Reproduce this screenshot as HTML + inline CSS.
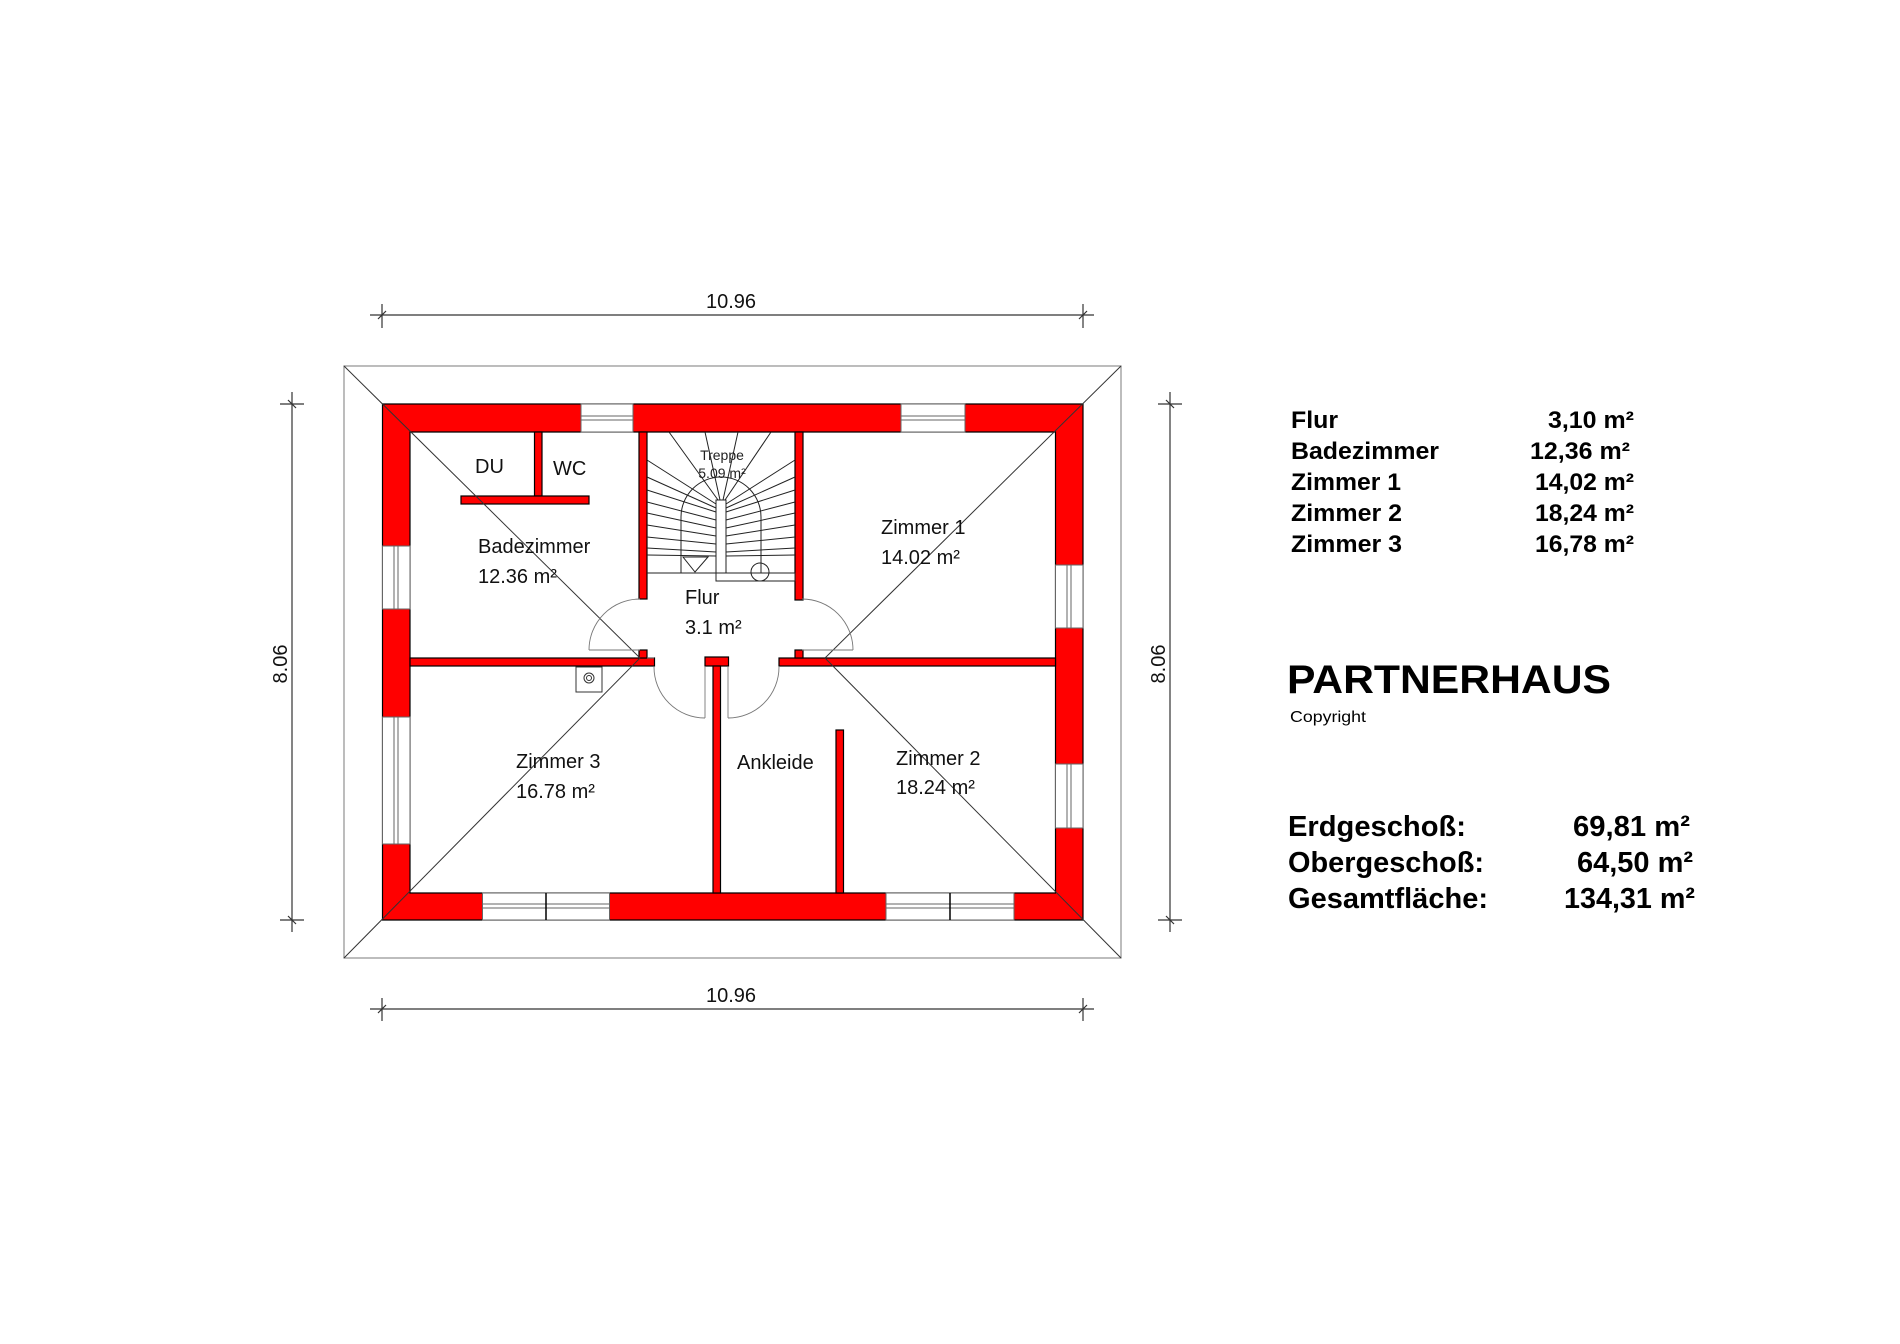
<!DOCTYPE html>
<html><head><meta charset="utf-8"><style>html,body{margin:0;padding:0;background:#fff}svg{display:block}</style></head>
<body>
<svg width="1900" height="1344" viewBox="0 0 1900 1344" xmlns="http://www.w3.org/2000/svg" font-family="Liberation Sans, Arial, sans-serif">
<rect width="1900" height="1344" fill="#fff"/>
<rect x="344" y="366" width="777" height="592" fill="none" stroke="#999" stroke-width="1.3"/>
<g fill="#ff0000" stroke="#000" stroke-width="1.2">
<path fill-rule="evenodd" d="M382.5 404H1083V920H382.5Z M410 432V893H1055.5V432Z"/>
<rect x="410" y="658" width="244.5" height="8"/>
<rect x="705" y="657" width="23.5" height="9"/>
<rect x="779" y="658" width="276.5" height="8"/>
<rect x="639" y="432" width="8" height="167"/>
<rect x="639" y="650" width="8" height="8"/>
<rect x="795" y="432" width="8" height="168"/>
<rect x="795" y="650" width="8" height="8"/>
<rect x="713" y="666" width="7.5" height="227"/>
<rect x="836" y="730" width="7.5" height="163"/>
<rect x="534.5" y="432" width="7.5" height="64"/>
<rect x="461" y="496" width="128" height="8"/>
</g>
<g fill="#fff" stroke="#666" stroke-width="1">
<rect x="581" y="404" width="52" height="28"/><line x1="581" y1="416" x2="633" y2="416"/><line x1="581" y1="420" x2="633" y2="420"/>
<rect x="901" y="404" width="64" height="28"/><line x1="901" y1="416" x2="965" y2="416"/><line x1="901" y1="420" x2="965" y2="420"/>
<rect x="382.5" y="546" width="27.5" height="63"/><line x1="394" y1="546" x2="394" y2="609"/><line x1="398" y1="546" x2="398" y2="609"/>
<rect x="382.5" y="717" width="27.5" height="127"/><line x1="394" y1="717" x2="394" y2="844"/><line x1="398" y1="717" x2="398" y2="844"/>
<rect x="1055.5" y="565" width="27.5" height="63"/><line x1="1067" y1="565" x2="1067" y2="628"/><line x1="1071" y1="565" x2="1071" y2="628"/>
<rect x="1055.5" y="764" width="27.5" height="64"/><line x1="1067" y1="764" x2="1067" y2="828"/><line x1="1071" y1="764" x2="1071" y2="828"/>
<rect x="482.5" y="893" width="127" height="27"/><line x1="482.5" y1="904" x2="609.5" y2="904"/><line x1="482.5" y1="908" x2="609.5" y2="908"/>
<rect x="886" y="893" width="128" height="27"/><line x1="886" y1="904" x2="1014" y2="904"/><line x1="886" y1="908" x2="1014" y2="908"/>
</g>
<g stroke="#000" stroke-width="1.5"><line x1="546" y1="893" x2="546" y2="920"/><line x1="950" y1="893" x2="950" y2="920"/></g>
<g stroke="#333" stroke-width="1">
<line x1="344" y1="366" x2="640" y2="658"/>
<line x1="1121" y1="366" x2="825" y2="658"/>
<line x1="344" y1="958" x2="640" y2="658"/>
<line x1="1121" y1="958" x2="825" y2="658"/>
</g>
<g fill="none" stroke="#777" stroke-width="0.9">
<line x1="589" y1="650" x2="640" y2="650"/><path d="M589 650A51 51 0 0 1 640 599"/>
<line x1="802" y1="650" x2="853" y2="650"/><path d="M853 650A51 51 0 0 0 802 599"/>
<line x1="705" y1="667" x2="705" y2="718"/><path d="M654 667A51 51 0 0 0 705 718"/>
<line x1="728" y1="667" x2="728" y2="718"/><path d="M779 667A51 51 0 0 1 728 718"/>
<line x1="647" y1="658" x2="654" y2="658"/>
</g>
<g fill="none" stroke="#222" stroke-width="1">
<line x1="647" y1="573" x2="795" y2="573"/>
<rect x="716" y="500" width="10" height="73" fill="#fff"/>
<rect x="716" y="573" width="79" height="8" fill="#fff"/>
<circle cx="760" cy="572" r="9"/>
<path d="M683 557H708L695 572Z"/>
<path d="M681 573V517A40 40 0 0 1 761 517V573"/>
<line x1="647" y1="490" x2="716" y2="512"/>
<line x1="647" y1="502" x2="716" y2="520"/>
<line x1="647" y1="513" x2="716" y2="528"/>
<line x1="647" y1="525" x2="716" y2="536"/>
<line x1="647" y1="537" x2="716" y2="544"/>
<line x1="647" y1="548" x2="716" y2="552"/>
<line x1="647" y1="555" x2="716" y2="556"/>
<line x1="795" y1="490" x2="726" y2="512"/>
<line x1="795" y1="502" x2="726" y2="520"/>
<line x1="795" y1="513" x2="726" y2="528"/>
<line x1="795" y1="525" x2="726" y2="536"/>
<line x1="795" y1="537" x2="726" y2="544"/>
<line x1="795" y1="548" x2="726" y2="552"/>
<line x1="795" y1="555" x2="726" y2="556"/>
<line x1="669" y1="432" x2="718" y2="500"/>
<line x1="705" y1="432" x2="720" y2="500"/>
<line x1="738" y1="432" x2="723" y2="500"/>
<line x1="771" y1="432" x2="725" y2="500"/>
<line x1="647" y1="460" x2="716" y2="504"/>
<line x1="647" y1="477" x2="716" y2="508"/>
<line x1="795" y1="460" x2="726" y2="504"/>
<line x1="795" y1="477" x2="726" y2="508"/>
</g>
<rect x="576" y="667" width="26" height="25" fill="#fff" stroke="#333" stroke-width="1"/>
<circle cx="589" cy="678" r="5" fill="none" stroke="#333"/><circle cx="589" cy="678" r="2.5" fill="none" stroke="#333"/>
<g stroke="#333" stroke-width="1.2">
<line x1="370" y1="315" x2="1094" y2="315"/>
<line x1="382" y1="304" x2="382" y2="328"/><line x1="378" y1="319" x2="386" y2="311"/>
<line x1="1083" y1="304" x2="1083" y2="328"/><line x1="1079" y1="319" x2="1087" y2="311"/>
<line x1="370" y1="1009" x2="1094" y2="1009"/>
<line x1="382" y1="998" x2="382" y2="1021"/><line x1="378" y1="1013" x2="386" y2="1005"/>
<line x1="1083" y1="998" x2="1083" y2="1021"/><line x1="1079" y1="1013" x2="1087" y2="1005"/>
<line x1="292" y1="392" x2="292" y2="932"/>
<line x1="280" y1="404" x2="304" y2="404"/><line x1="288" y1="400" x2="296" y2="408"/>
<line x1="280" y1="920" x2="304" y2="920"/><line x1="288" y1="916" x2="296" y2="924"/>
<line x1="1170" y1="392" x2="1170" y2="932"/>
<line x1="1158" y1="404" x2="1182" y2="404"/><line x1="1166" y1="400" x2="1174" y2="408"/>
<line x1="1158" y1="920" x2="1182" y2="920"/><line x1="1166" y1="916" x2="1174" y2="924"/>
</g>
<g font-size="20" fill="#111" text-anchor="middle">
<text x="731" y="308">10.96</text>
<text x="731" y="1002">10.96</text>
<text transform="translate(287,664) rotate(-90)">8.06</text>
<text transform="translate(1165,664) rotate(-90)">8.06</text>
</g>
<g font-size="20" fill="#111">
<text x="478" y="553">Badezimmer</text>
<text x="478" y="583">12.36 m²</text>
<text x="475" y="473">DU</text>
<text x="553" y="475">WC</text>
<text x="881" y="534">Zimmer 1</text>
<text x="881" y="564">14.02 m²</text>
<text x="685" y="604">Flur</text>
<text x="685" y="634">3.1 m²</text>
<text x="516" y="768">Zimmer 3</text>
<text x="516" y="798">16.78 m²</text>
<text x="737" y="769">Ankleide</text>
<text x="896" y="765">Zimmer 2</text>
<text x="896" y="794">18.24 m²</text>
</g>
<g font-size="14" fill="#222" text-anchor="middle">
<text x="722" y="460">Treppe</text>
<text x="722" y="478">5.09 m²</text>
</g>
<g font-size="24" font-weight="bold" fill="#000">
<text x="1291" y="428" textLength="47" lengthAdjust="spacingAndGlyphs">Flur</text>
<text x="1291" y="459" textLength="148" lengthAdjust="spacingAndGlyphs">Badezimmer</text>
<text x="1291" y="490" textLength="110" lengthAdjust="spacingAndGlyphs">Zimmer 1</text>
<text x="1291" y="521" textLength="111" lengthAdjust="spacingAndGlyphs">Zimmer 2</text>
<text x="1291" y="552" textLength="111" lengthAdjust="spacingAndGlyphs">Zimmer 3</text>
</g>
<g font-size="24" font-weight="bold" fill="#000">
<text x="1548" y="428" textLength="86" lengthAdjust="spacingAndGlyphs">3,10 m²</text>
<text x="1530" y="459" textLength="100" lengthAdjust="spacingAndGlyphs">12,36 m²</text>
<text x="1535" y="490" textLength="99" lengthAdjust="spacingAndGlyphs">14,02 m²</text>
<text x="1535" y="521" textLength="99" lengthAdjust="spacingAndGlyphs">18,24 m²</text>
<text x="1535" y="552" textLength="99" lengthAdjust="spacingAndGlyphs">16,78 m²</text>
</g>
<text x="1287" y="693" font-size="40" font-weight="bold" textLength="324" lengthAdjust="spacingAndGlyphs">PARTNERHAUS</text>
<text x="1290" y="722" font-size="16" textLength="76" lengthAdjust="spacingAndGlyphs">Copyright</text>
<g font-size="29" font-weight="bold" fill="#000">
<text x="1288" y="836" textLength="178" lengthAdjust="spacingAndGlyphs">Erdgeschoß:</text>
<text x="1288" y="872" textLength="196" lengthAdjust="spacingAndGlyphs">Obergeschoß:</text>
<text x="1288" y="908" textLength="200" lengthAdjust="spacingAndGlyphs">Gesamtfläche:</text>
<text x="1573" y="836" textLength="117" lengthAdjust="spacingAndGlyphs">69,81 m²</text>
<text x="1577" y="872" textLength="116" lengthAdjust="spacingAndGlyphs">64,50 m²</text>
<text x="1564" y="908" textLength="131" lengthAdjust="spacingAndGlyphs">134,31 m²</text>
</g>
</svg>
</body></html>
